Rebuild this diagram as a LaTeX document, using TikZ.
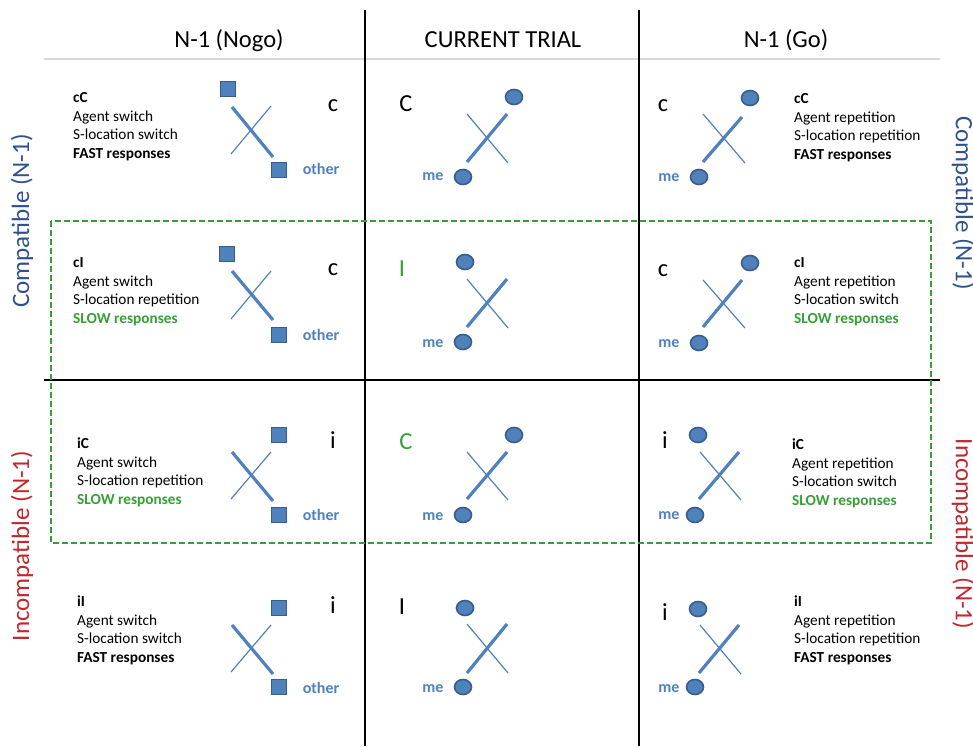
\documentclass[tikz,border=0pt]{standalone}
\usepackage{fontspec}
\setmainfont{Carlito}
\usetikzlibrary{shapes.geometric}
\definecolor{shapefill}{HTML}{4F81BD}
\definecolor{shapeedge}{HTML}{385D8A}
\definecolor{cgreen}{HTML}{36A036}
\definecolor{cblue}{HTML}{2F528F}
\definecolor{cred}{HTML}{C0282D}
\definecolor{rulegray}{HTML}{D9D9D9}
\tikzset{
  body/.style={font=\fontsize{15.3}{18}\selectfont, anchor=base west, inner sep=0pt},
  bigletter/.style={font=\fontsize{24.5}{29}\selectfont, anchor=base, inner sep=0pt},
  head/.style={font=\fontsize{24.5}{29}\selectfont, anchor=base, inner sep=0pt},
  side/.style={font=\fontsize{25}{30}\selectfont, inner sep=0pt},
  tag/.style={font=\bfseries\fontsize{16}{19}\selectfont, text=shapefill, anchor=base, inner sep=0pt},
  sq/.style={rectangle, draw=shapeedge, fill=shapefill, line width=1.6pt, minimum size=15pt, inner sep=0pt},
  dot/.style={ellipse, draw=shapeedge, fill=shapefill, line width=1.6pt, minimum width=17pt, minimum height=15pt, inner sep=0pt},
  xheavy/.style={draw=shapefill, line width=3.2pt},
  xlight/.style={draw=shapefill, line width=1.2pt},
  gridline/.style={draw=black, line width=2.4pt},
  greenbox/.style={draw=cgreen, line width=1.8pt, dash pattern=on 6pt off 3pt},
}
\newcommand\infoblock[7]{%
  \node[body] (#1a) at (#2,#3) {\textbf{#4}};
  \node[body] (#1b) at (#2,#3+18.6) {#5};
  \node[body] (#1c) at (#2,#3+37.2) {#6};
  \node[body] (#1d) at (#2,#3+55.8) {#7};
}
\newcommand\fastline{\textbf{FAST responses}}
\newcommand\slowline{\textcolor{cgreen}{\textbf{SLOW responses}}}
\begin{document}
\begin{tikzpicture}[x=1pt,y=-1pt]
\useasboundingbox (0,0) rectangle (973,746);
% grid
\draw[rulegray, line width=1.6pt] (44,59) -- (940,59);
\draw[gridline, line width=2pt] (44,380) -- (940,380);
\draw[gridline] (365,10) -- (365,746);
\draw[gridline] (639,10) -- (639,746);
\draw[greenbox] (51,221) rectangle (931,543);
% headers
\node[head] (h1) at (229,48) {N-1 (Nogo)};
\node[head] (h2) at (503,48) {CURRENT TRIAL};
\node[head] (h3) at (786,48) {N-1 (Go)};
% side labels
\node[side, text=cblue, rotate=90] (sl1) at (22,221) {Compatible (N-1)};
\node[side, text=cred, rotate=90] (sl2) at (22,546) {Incompatible (N-1)};
\node[side, text=cblue, rotate=-90] (sr1) at (963,203) {Compatible (N-1)};
\node[side, text=cred, rotate=-90] (sr2) at (963,534) {Incompatible (N-1)};
% ---------- column 1 (Nogo)
\infoblock{t11}{73}{102.5}{cC}{Agent switch}{S-location switch}{\fastline}
\infoblock{t21}{73}{267.5}{cI}{Agent switch}{S-location repetition}{\slowline}
\infoblock{t31}{77}{448.5}{iC}{Agent switch}{S-location repetition}{\slowline}
\infoblock{t41}{77}{606.5}{iI}{Agent switch}{S-location switch}{\fastline}
% crosses col1
\draw[xheavy] (232,107) -- (273,157); \draw[xlight] (271,106) -- (231,154);
\draw[xheavy] (232,271) -- (273,320); \draw[xlight] (271,271) -- (231,319);
\draw[xheavy] (232,452) -- (273,501); \draw[xlight] (271,452) -- (231,499);
\draw[xheavy] (232,625) -- (273,674); \draw[xlight] (271,625) -- (231,672);
% squares col1
\node[sq] (s11t) at (228,89) {}; \node[sq] (s11b) at (279,170) {};
\node[sq] (s21t) at (227,254) {}; \node[sq] (s21b) at (279,335) {};
\node[sq] (s31t) at (279,435) {}; \node[sq] (s31b) at (279,515) {};
\node[sq] (s41t) at (279,608) {}; \node[sq] (s41b) at (279,687) {};
\node[tag] (o11) at (321,175) {other};
\node[tag] (o21) at (321,340) {other};
\node[tag] (o31) at (321,520) {other};
\node[tag] (o41) at (321,693) {other};
\node[bigletter] (l11) at (333,112) {c};
\node[bigletter] (l21) at (333,275) {c};
\node[bigletter] (l31) at (333,448) {i};
\node[bigletter] (l41) at (333,613) {i};
% ---------- column 2 (current)
\draw[xheavy] (467,162) -- (507,114); \draw[xlight] (467,114) -- (508,163);
\draw[xheavy] (467,327) -- (507,279); \draw[xlight] (467,279) -- (508,328);
\draw[xheavy] (467,499) -- (507,452); \draw[xlight] (467,452) -- (508,500);
\draw[xheavy] (467,673) -- (507,624); \draw[xlight] (467,624) -- (508,673);
\node[dot] (c12t) at (514,97) {}; \node[dot] (c12b) at (463,177) {};
\node[dot] (c22t) at (465,262) {}; \node[dot] (c22b) at (463,342) {};
\node[dot] (c32t) at (514,435) {}; \node[dot] (c32b) at (463,515) {};
\node[dot] (c42t) at (465,608) {}; \node[dot] (c42b) at (463,687) {};
\node[tag] (m12) at (433,180.5) {me};
\node[tag] (m22) at (433,347) {me};
\node[tag] (m32) at (433,520) {me};
\node[tag] (m42) at (433,692) {me};
\node[bigletter] (l12) at (406,112) {C};
\node[bigletter, text=cgreen] (l22) at (402,276) {I};
\node[bigletter, text=cgreen] (l32) at (406,449) {C};
\node[bigletter] (l42) at (402,614) {I};
% ---------- column 3 (Go)
\infoblock{t13}{794}{103.5}{cC}{Agent repetition}{S-location repetition}{\fastline}
\infoblock{t23}{794}{267.5}{cI}{Agent repetition}{S-location switch}{\slowline}
\infoblock{t33}{792}{449.5}{iC}{Agent repetition}{S-location switch}{\slowline}
\infoblock{t43}{794}{606.5}{iI}{Agent repetition}{S-location repetition}{\fastline}
\draw[xheavy] (703,162) -- (742,117); \draw[xlight] (703,114) -- (745,163);
\draw[xheavy] (703,327) -- (742,280); \draw[xlight] (703,280) -- (745,328);
\draw[xheavy] (699,499) -- (739,452); \draw[xlight] (700,452) -- (741,500);
\draw[xheavy] (699,673) -- (739,625); \draw[xlight] (700,625) -- (741,674);
\node[dot] (c13t) at (750,98) {}; \node[dot] (c13b) at (699,177) {};
\node[dot] (c23t) at (750,263) {}; \node[dot] (c23b) at (699,343) {};
\node[dot] (c33t) at (698,435) {}; \node[dot] (c33b) at (695,515) {};
\node[dot] (c43t) at (698,609) {}; \node[dot] (c43b) at (695,687) {};
\node[tag] (m13) at (669,181) {me};
\node[tag] (m23) at (669,347) {me};
\node[tag] (m33) at (669,519) {me};
\node[tag] (m43) at (669,692) {me};
\node[bigletter] (l13) at (663,112) {c};
\node[bigletter] (l23) at (663,276) {c};
\node[bigletter] (l33) at (665,448) {i};
\node[bigletter] (l43) at (665,620) {i};
\end{tikzpicture}
\end{document}
